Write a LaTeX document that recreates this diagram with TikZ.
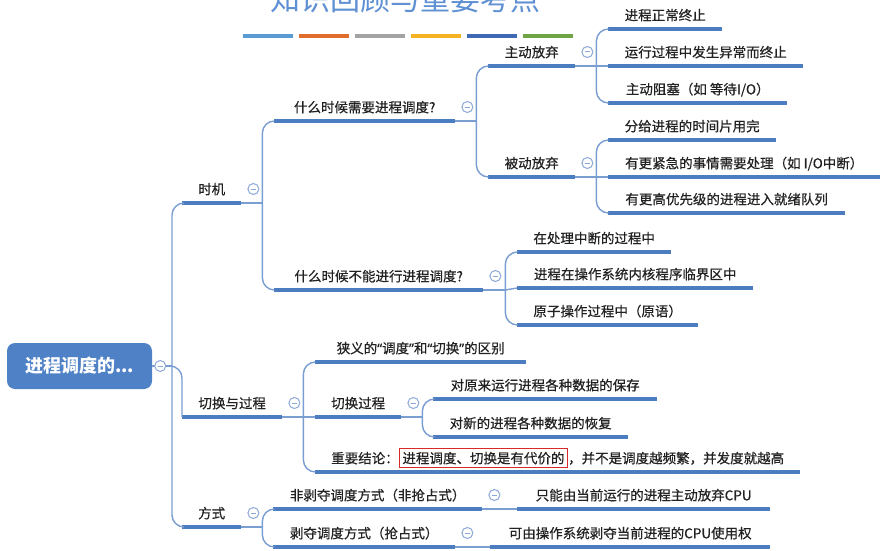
\documentclass[tikz,border=0pt]{standalone}
\usepackage{fontspec}
\setmainfont{Noto Sans CJK SC}
\newfontfamily\topicfont[FakeBold=0.5]{Noto Sans CJK SC}
\newfontfamily\quotefont[FakeBold=0.5]{Noto Sans}
\usepackage{tikz}
\definecolor{ink}{HTML}{222222}
\definecolor{branch}{HTML}{4C7DC1}
\definecolor{wire}{HTML}{7A9ED2}
\definecolor{rootblue}{HTML}{4F81C6}
\definecolor{titleblue}{HTML}{5E90D3}
\definecolor{knob}{HTML}{8AA8D8}
\definecolor{mark}{HTML}{D52B2B}
\definecolor{barA}{HTML}{5B9BD5}\definecolor{barB}{HTML}{E26B2E}\definecolor{barC}{HTML}{A3A3A3}
\definecolor{barD}{HTML}{F5B324}\definecolor{barE}{HTML}{3F68B5}\definecolor{barF}{HTML}{6FA545}
\newcommand{\oq}{{\quotefont “}}\newcommand{\cq}{{\quotefont ”}}

\tikzset{
  topic/.style={anchor=south west,inner xsep=0pt,inner ysep=8.5pt,text height=10pt,text depth=0pt,
    font=\topicfont\fontsize{13.5}{16}\selectfont,text=ink},
  uline/.style={branch,line width=3.4pt},
  conn/.style={wire,line width=1.4pt,rounded corners=12pt},
  fold/.style={circle,draw=knob,fill=white,line width=1pt,minimum size=11pt,inner sep=0pt,
    path picture={\draw[knob,line width=1pt] ([xshift=-2.6pt]path picture bounding box.center)--([xshift=2.6pt]path picture bounding box.center);}},
  rootbox/.style={rounded corners=8pt,fill=rootblue,minimum width=145pt,minimum height=46pt,text=white,
    font=\fontsize{18}{20}\selectfont\bfseries},
}

\begin{document}
\begin{tikzpicture}[x=1pt,y=-1pt]
\useasboundingbox (0,0) rectangle (889,551);\clip (0,0) rectangle (889,551);
\fill[white] (0,0) rectangle (889,551);
% title and colour bars
\node[anchor=base,font=\fontsize{30}{32}\selectfont,text=titleblue] (title) at (405.5,10.5) {知识回顾与重要考点};
\foreach \c [count=\i] in {barA,barB,barC,barD,barE,barF}
  \fill[\c] (243+56*\i-56,34) rectangle ++(50,4);

\node[rootbox] (root) at (79.5,366) {进程调度的...};
% first level
\node[topic,minimum width=59pt] (shiji) at (182,203) {时机};
\node[topic,minimum width=100pt] (qh) at (182,417) {切换与过程};
\node[topic,minimum width=59pt] (fs) at (182,527) {方式};
% second level
\node[topic,minimum width=181pt] (q1) at (274,121) {什么时候需要进程调度?};
\node[topic,minimum width=209pt] (q2) at (274,290) {什么时候不能进行进程调度?};
\node[topic,minimum width=211pt] (xiayi) at (315,362) {狭义的\oq 调度\cq 和\oq 切换\cq 的区别};
\node[topic,minimum width=86pt] (gc) at (315,417) {切换过程};
\node[topic,minimum width=485pt] (jl) at (315,472) {重要结论：{\setlength\fboxsep{2.5pt}\setlength\fboxrule{1.2pt}\fcolorbox{mark}{white}{进程调度、切换是有代价的}}，并不是调度越频繁，并发度就越高};
\node[topic,minimum width=209pt] (fb) at (273,509) {非剥夺调度方式（非抢占式）};
\node[topic,minimum width=182pt] (bo) at (273,547) {剥夺调度方式（抢占式）};
% third level
\node[topic,minimum width=87pt] (zd) at (488,66) {主动放弃};
\node[topic,minimum width=87pt] (bd) at (488,177) {被动放弃};
\node[topic,minimum width=154pt] (zai) at (517,252) {在处理中断的过程中};
\node[topic,minimum width=236pt] (jc) at (517,288) {进程在操作系统内核程序临界区中};
\node[topic,minimum width=181pt] (yz) at (517,325) {原子操作过程中（原语）};
\node[topic,minimum width=224pt] (bc) at (433,399) {对原来运行进程各种数据的保存};
\node[topic,minimum width=195pt] (hf) at (433,437) {对新的进程各种数据的恢复};
\node[topic,minimum width=253pt] (zn) at (517,509) {只能由当前运行的进程主动放弃CPU};
\node[topic,minimum width=280pt] (ky) at (490,547) {可由操作系统剥夺当前进程的CPU使用权};
% fourth level
\node[topic,minimum width=114pt] (a1) at (608,29) {进程正常终止};
\node[topic,minimum width=195pt] (a2) at (608,66) {运行过程中发生异常而终止};
\node[topic,minimum width=179pt] (a3) at (608,103) {主动阻塞（如 等待I/O）};
\node[topic,minimum width=168pt] (b1) at (608,140) {分给进程的时间片用完};
\node[topic,minimum width=272pt] (b2) at (608,177) {有更紧急的事情需要处理（如 I/O中断）};
\node[topic,minimum width=237pt] (b3) at (608,213) {有更高优先级的进程进入就绪队列};

\foreach \n in {shiji,qh,fs,q1,q2,xiayi,gc,jl,fb,bo,zd,bd,zai,jc,yz,bc,hf,zn,ky,a1,a2,a3,b1,b2,b3}
  \draw[uline] (\n.south west)--(\n.south east);

% connectors
\draw[conn] (root.east)--(172,366) coordinate (jr);
\draw[conn] (jr)|-(shiji.south west);\draw[conn] (jr)--(qh.south west|-jr)|-(qh.south west);\draw[conn] (jr)|-(fs.south west);
\draw[conn] (shiji.south east)--++(21,0) coordinate (js);\draw[conn] (js)|-(q1.south west);\draw[conn] (js)|-(q2.south west);
\draw[conn] (q1.south east)--++(21,0) coordinate (jq1);\draw[conn] (jq1)|-(zd.south west);\draw[conn] (jq1)|-(bd.south west);
\draw[conn] (zd.south east)--++(21,0) coordinate (jzd);\draw[conn] (jzd)|-(a1.south west);\draw[conn] (jzd)--(a2.south west);\draw[conn] (jzd)|-(a3.south west);
\draw[conn] (bd.south east)--++(21,0) coordinate (jbd);\draw[conn] (jbd)|-(b1.south west);\draw[conn] (jbd)--(b2.south west);\draw[conn] (jbd)|-(b3.south west);
\draw[conn] (q2.south east)--++(22,0) coordinate (jq2);\draw[conn] (jq2)|-(zai.south west);\draw[conn] (jq2)--(jc.south west);\draw[conn] (jq2)|-(yz.south west);
\draw[conn] (qh.south east)--++(21,0) coordinate (jqh);\draw[conn] (jqh)|-(xiayi.south west);\draw[conn] (jqh)--(gc.south west);\draw[conn] (jqh)|-(jl.south west);
\draw[conn] (gc.south east)--++(21,0) coordinate (jgc);\draw[conn] (jgc)|-(bc.south west);\draw[conn] (jgc)|-(hf.south west);
\draw[conn] (fs.south east)--++(21,0) coordinate (jfs);\draw[conn] (jfs)|-(fb.south west);\draw[conn] (jfs)|-(bo.south west);
\draw[conn] (fb.south east)--(zn.south west);\draw[conn] (bo.south east)--(ky.south west);

% fold knobs
\node[fold] (k-root) at ([xshift=8pt]root.east) {};
\foreach \n in {shiji,qh,fs,q1,q2,gc,zd,bd,fb,bo}
  \node[fold] (k-\n) at ([xshift=12pt,yshift=14pt]\n.south east) {};
\end{tikzpicture}
\end{document}
